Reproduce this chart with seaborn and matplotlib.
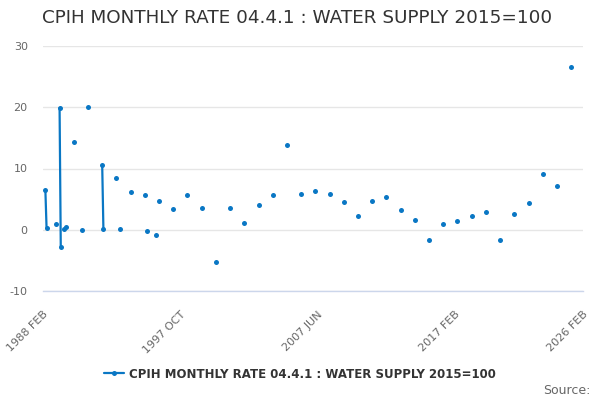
import numpy as np
import pandas as pd
import matplotlib
matplotlib.use("Agg")
import matplotlib.pyplot as plt
import seaborn as sns

title = "CPIH MONTHLY RATE 04.4.1 : WATER SUPPLY 2015=100"

# monthly categories on the axis
first_month = "1988-02"
last_month = "2026-02"

# months that carry a value, and the values (%)
obs_months = ["1988 APR", "1988 MAY", "1989 JAN", "1989 APR", "1989 MAY", "1989 AUG",
              "1989 SEP", "1990 APR", "1990 NOV", "1991 APR", "1992 APR", "1992 MAY",
              "1993 APR", "1993 JUL", "1994 APR", "1995 APR", "1995 JUN", "1996 JAN",
              "1996 APR", "1997 APR", "1998 APR", "1999 APR", "2000 APR", "2001 APR",
              "2002 APR", "2003 APR", "2004 APR", "2005 APR", "2006 APR", "2007 APR",
              "2008 APR", "2009 APR", "2010 APR", "2011 APR", "2012 APR", "2013 APR",
              "2014 APR", "2015 APR", "2016 APR", "2017 APR", "2018 APR", "2019 APR",
              "2020 APR", "2021 APR", "2022 APR", "2023 APR", "2024 APR", "2025 APR"]
obs_values = [6.5, 0.3, 1.0, 19.9, -2.8, 0.1,
              0.4, 14.4, -0.1, 20.1, 10.5, 0.2,
              8.4, 0.2, 6.2, 5.6, -0.2, -0.8,
              4.7, 3.4, 5.6, 3.6, -5.3, 3.6,
              1.1, 4.0, 5.7, 13.8, 5.8, 6.3,
              5.8, 4.6, 2.2, 4.7, 5.3, 3.2,
              1.6, -1.6, 1.0, 1.5, 2.3, 2.9,
              -1.6, 2.6, 4.4, 9.1, 7.1, 26.6]

tick_step = 29
label_every = 4

periods = pd.period_range(first_month, last_month, freq="M")
cats = [p.strftime("%Y %b").upper() for p in periods]
pos = {c: i for i, c in enumerate(cats)}

df = pd.DataFrame({"month": obs_months, "value": obs_values})
df["x"] = df["month"].map(pos)
df = df.sort_values("x").reset_index(drop=True)
# new segment wherever months are not consecutive
df["seg"] = (df["x"].diff() != 1).cumsum()

blue = "#0a77c4"
grey = "#666666"

sns.set_style("white")
plt.rcParams["font.family"] = ["DejaVu Sans"]
plt.rcParams["axes.unicode_minus"] = False

fig = plt.figure(figsize=(6, 4), dpi=100)
ax = fig.add_axes([43 / 600, 1 - 291 / 400, 540 / 600, 245 / 400])

sns.lineplot(data=df, x="x", y="value", units="seg", estimator=None,
             color=blue, linewidth=1.6, marker="o", markersize=3.6,
             markeredgewidth=0, ax=ax, legend=False)

ax.set_xlim(0, len(cats) - 1)
ax.set_ylim(-10, 30)
ax.set_yticks([-10, 0, 10, 20, 30])
ax.yaxis.grid(True, color="#e6e6e6", linewidth=1)
ax.set_axisbelow(True)
ax.set_xlabel("")
ax.set_ylabel("")

xt = list(range(0, len(cats), tick_step)) + [len(cats) - 1]
xl = [cats[t] if (i % label_every == 0 or t == len(cats) - 1) else ""
      for i, t in enumerate(xt)]
ax.set_xticks(xt)
ax.set_xticklabels(xl, rotation=45, ha="right", rotation_mode="anchor",
                   fontsize=8, color=grey)
ax.tick_params(axis="x", length=7, width=1, color="#ccd6eb", pad=6, direction="out")
ax.tick_params(axis="y", length=0, pad=11, labelsize=8, labelcolor=grey)

for s in ["top", "right", "left"]:
    ax.spines[s].set_visible(False)
ax.spines["bottom"].set_color("#ccd6eb")
ax.spines["bottom"].set_linewidth(1)

fig.text(42 / 600, 1 - 18 / 400, title, fontsize=13.25, color="#333333",
         ha="left", va="center")

handle = plt.Line2D([], [], color=blue, linewidth=1.6, marker="o",
                    markersize=3.6, markeredgewidth=0)
fig.legend([handle], [title], loc="center", bbox_to_anchor=(0.5, 1 - 374 / 400),
           frameon=False, handlelength=1.7, handletextpad=0.45,
           prop={"size": 8.5, "weight": "bold"}, labelcolor="#333333")

fig.text(590 / 600, 1 - 390 / 400, "Source:", fontsize=9, color=grey,
         ha="right", va="center")

fig.savefig("out.png", dpi=100)
